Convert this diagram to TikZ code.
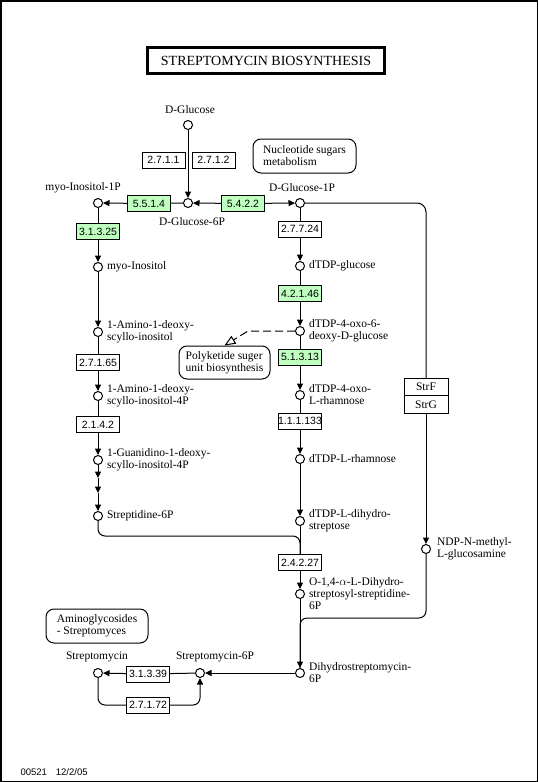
\documentclass[tikz,border=0pt]{standalone}
\usepackage{fontspec}
\setmainfont{Liberation Serif}
\newfontfamily\footfont{Liberation Sans}
\usetikzlibrary{arrows.meta,positioning}
\definecolor{enzgreen}{RGB}{191,255,191}

\begin{document}
\begin{tikzpicture}[x=1pt,y=-1pt,line width=1pt,>={Triangle[length=6.5pt,width=6pt]},
  cpd/.style={circle,draw,fill=white,inner sep=0pt,minimum size=9pt},
  cname/.style={inner sep=1.5pt,align=left,font=\fontsize{11.5}{12}\selectfont},
  enz/.style={draw,fill=white,minimum width=43pt,minimum height=16pt,inner sep=0pt,font=\footfont\fontsize{10.5}{12}\selectfont},
  genz/.style={enz,fill=enzgreen},
  mapbox/.style={draw,rounded corners=8pt,align=left,inner sep=0pt,font=\fontsize{11.5}{12}\selectfont}]
  \useasboundingbox (0,0) rectangle (538,782);
  \draw[line width=1.5pt] (0.75,0.75) rectangle (537.25,781.25);
  \node[draw,line width=3pt,minimum width=237pt,minimum height=26pt,font=\fontsize{14}{14}\selectfont] (title) at (266,60.5) {STREPTOMYCIN BIOSYNTHESIS};

  \node[cpd] (glc) at (188,125) {};
  \node[cpd] (g6p) at (188,203) {};
  \node[cpd] (mi1p) at (98,203) {};
  \node[cpd] (g1p) at (300,203) {};
  \node[cpd] (mino) at (98,267) {};
  \node[cpd] (amino) at (98,332) {};
  \node[cpd] (amino4p) at (98,396) {};
  \node[cpd] (guan) at (98,460) {};
  \node[cpd] (strd) at (98,516) {};
  \node[cpd] (dtdpg) at (300,266) {};
  \node[cpd] (oxo6) at (300,331) {};
  \node[cpd] (oxorh) at (300,395) {};
  \node[cpd] (rham) at (300,459) {};
  \node[cpd] (dihy) at (300,521) {};
  \node[cpd] (ndp) at (426,549) {};
  \node[cpd] (osd) at (300,594) {};
  \node[cpd] (dhsm) at (300,673) {};
  \node[cpd] (sm6p) at (200,673) {};
  \node[cpd] (sm) at (98,673) {};

  \node[cname] (glc-t) at (190,110) {D-Glucose};
  \node[cname] (g6p-t) at (192,222) {D-Glucose-6P};
  \node[cname] (mi1p-t) at (83,188) {myo-Inositol-1P};
  \node[cname] (g1p-t) at (302,188) {D-Glucose-1P};
  \node[cname,right=2pt of mino] (mino-t) {myo-Inositol};
  \node[cname,right=2pt of amino] (amino-t) {1-Amino-1-deoxy-\\scyllo-inositol};
  \node[cname,right=2pt of amino4p] (amino4p-t) {1-Amino-1-deoxy-\\scyllo-inositol-4P};
  \node[cname,right=2pt of guan] (guan-t) {1-Guanidino-1-deoxy-\\scyllo-inositol-4P};
  \node[cname,right=2pt of strd] (strd-t) {Streptidine-6P};
  \node[cname,right=2pt of dtdpg] (dtdpg-t) {dTDP-glucose};
  \node[cname,right=2pt of oxo6] (oxo6-t) {dTDP-4-oxo-6-\\deoxy-D-glucose};
  \node[cname,right=2pt of oxorh] (oxorh-t) {dTDP-4-oxo-\\L-rhamnose};
  \node[cname,right=2pt of rham] (rham-t) {dTDP-L-rhamnose};
  \node[cname,right=2pt of dihy] (dihy-t) {dTDP-L-dihydro-\\streptose};
  \node[cname,right=4pt of ndp] (ndp-t) {NDP-N-methyl-\\L-glucosamine};
  \node[cname,right=2pt of osd] (osd-t) {O-1,4-$\alpha$-L-Dihydro-\\streptosyl-streptidine-\\6P};
  \node[cname,right=2pt of dhsm] (dhsm-t) {Dihydrostreptomycin-\\6P};
  \node[cname] (sm6p-t) at (215,657) {Streptomycin-6P};
  \node[cname] (sm-t) at (97,657) {Streptomycin};

  \node[enz] (e2711) at (163.5,160) {2.7.1.1};
  \node[enz] (e2712) at (213.5,160) {2.7.1.2};
  \node[genz] (e5514) at (149,203.5) {5.5.1.4};
  \node[genz] (e5422) at (243,203.5) {5.4.2.2};
  \node[genz] (e31325) at (98,231.5) {3.1.3.25};
  \node[enz] (e27165) at (98,362.5) {2.7.1.65};
  \node[enz] (e2142) at (98,424.5) {2.1.4.2};
  \node[enz] (e27724) at (300,229) {2.7.7.24};
  \node[genz] (e42146) at (300,293.5) {4.2.1.46};
  \node[genz] (e51313) at (300,357) {5.1.3.13};
  \node[enz] (e111133) at (300,421) {1.1.1.133};
  \node[enz] (e24227) at (300,562.5) {2.4.2.27};
  \node[enz] (e31339) at (148,674) {3.1.3.39};
  \node[enz] (e27172) at (148,705) {2.7.1.72};
  \node[enz,minimum width=44pt,minimum height=17.5pt,font=\fontsize{11.5}{12}\selectfont] (strf) at (426,387) {StrF};
  \node[enz,minimum width=44pt,minimum height=17.5pt,font=\fontsize{11.5}{12}\selectfont] (strg) at (426,404.5) {StrG};

  \node[mapbox,minimum width=103pt,minimum height=34pt] (nsm) at (304.5,156) {Nucleotide sugars\\metabolism};
  \node[mapbox,minimum width=91pt,minimum height=33pt] (pk) at (224.5,362.5) {Polyketide suger\\unit biosynthesis};
  \node[mapbox,minimum width=102pt,minimum height=34pt] (agly) at (97,626) {Aminoglycosides\\- Streptomyces};

  \node[anchor=west,inner sep=0pt,font=\footfont\fontsize{9.5}{10}\selectfont] (date) at (20,772) {00521\hspace{9pt}12/2/05};

  \coordinate (s1) at (98,478);
  \coordinate (s2) at (98,493);
  \coordinate (jA) at (300,536);
  \coordinate (jB) at (300,618);
  \coordinate (kink) at (248,331);

  \draw[->] (glc) -- (g6p);
  \draw[<-] (g6p) -- (e5422);
  \draw[->] (e5422) -- (g1p);
  \draw (g6p) -- (e5514);
  \draw[->] (e5514) -- (mi1p);
  \draw (mi1p) -- (e31325);
  \draw[->] (e31325) -- (mino);
  \draw[->] (mino) -- (amino);
  \draw (amino) -- (e27165);
  \draw[->] (e27165) -- (amino4p);
  \draw (amino4p) -- (e2142);
  \draw[->] (e2142) -- (guan);
  \draw[->] (guan) -- (s1);
  \draw[->] (s1) -- (s2);
  \draw[->] (s2) -- (strd);
  \draw[rounded corners=7pt] (strd) |- (jA) -- (e24227);

  \draw (g1p) -- (e27724);
  \draw[->] (e27724) -- (dtdpg);
  \draw (dtdpg) -- (e42146);
  \draw[->] (e42146) -- (oxo6);
  \draw (oxo6) -- (e51313);
  \draw[->] (e51313) -- (oxorh);
  \draw (oxorh) -- (e111133);
  \draw[->] (e111133) -- (rham);
  \draw[->] (rham) -- (dihy);
  \draw (dihy) -- (e24227);
  \draw[->] (e24227) -- (osd);
  \draw[->] (osd) -- (dhsm);
  \draw[rounded corners=9pt] (g1p) -| (strf);
  \draw[->] (strg) -- (ndp);
  \draw[rounded corners=7pt] (ndp) |- (jB) -- (dhsm);
  \draw[dash pattern=on 8pt off 4pt,-{Triangle[open,length=11pt,width=9pt]}] (oxo6) -- (kink) -- (pk.north);

  \draw[->] (dhsm) -- (sm6p);
  \draw (sm6p) -- (e31339);
  \draw[->] (e31339) -- (sm);
  \draw[rounded corners=7pt] (sm) |- (e27172);
  \draw[->,rounded corners=7pt] (e27172) -| (sm6p);
\end{tikzpicture}
\end{document}
